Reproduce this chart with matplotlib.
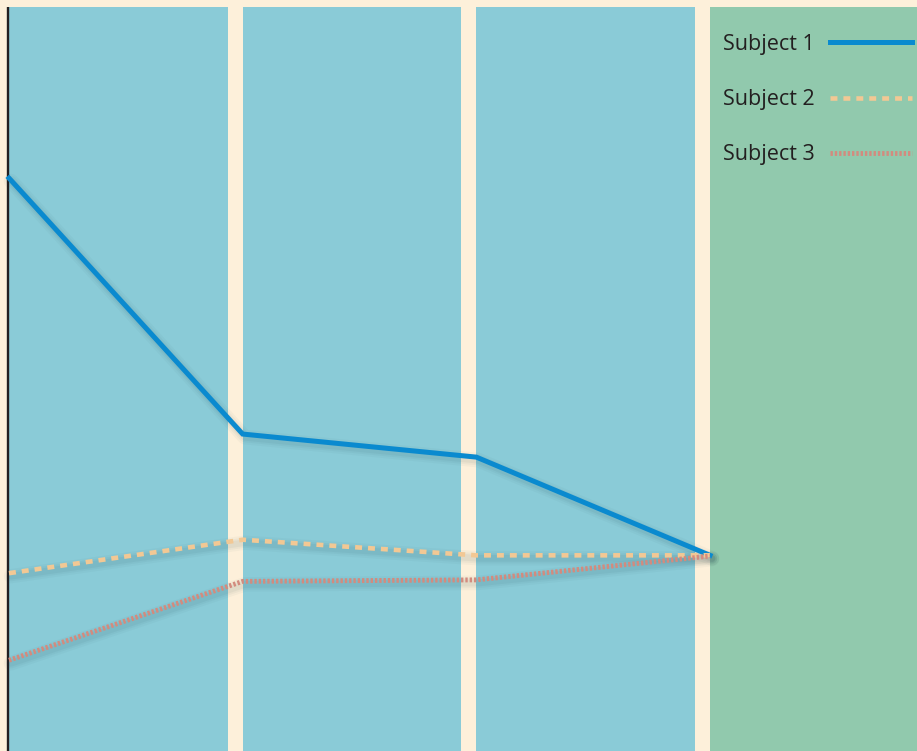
import matplotlib
matplotlib.use("Agg")
import matplotlib.pyplot as plt
import matplotlib.transforms as mtransforms
from matplotlib.lines import Line2D

plt.rcParams['font.family'] = ['Open Sans', 'DejaVu Sans']
plt.rcParams['lines.scale_dashes'] = False

# Measurement sessions and scores for each subject
sessions = [0, 1, 2, 3]
subject_1 = [77.0, 42.6, 39.5, 26.3]
subject_2 = [23.9, 28.4, 26.3, 26.3]
subject_3 = [12.2, 22.8, 23.0, 26.2]
labels = ["Subject 1", "Subject 2", "Subject 3"]

cream = "#fdf0da"
panel_blue = "#8acbd7"
panel_green = "#91c9ad"
colors = ["#0a8acf", "#f2c894", "#d38b7e"]

W, H, DPI = 917, 751, 100
fig = plt.figure(figsize=(W / DPI, H / DPI), dpi=DPI, facecolor=cream)
ax = fig.add_axes([0, 0, 1, 1])
ax.set_facecolor(cream)

step_px = 233.67
ax.set_xlim(-9 / step_px, (W - 9) / step_px)
ax.set_ylim(0, H / 7.44)
ax.axis("off")

# Phase panels behind the lines
ax.bar(sessions[:3], [100] * 3, width=(step_px - 15) / step_px, align="edge",
       color=panel_blue, zorder=1, linewidth=0)
ax.bar(sessions[3], 100, width=1.0, align="edge", color=panel_green,
       zorder=1, linewidth=0)

# Left axis line
ax.plot([-0.7 / step_px, -0.7 / step_px], [0, 100], color="#231f20", lw=1.7,
        zorder=2, solid_capstyle="butt")

series = [subject_1, subject_2, subject_3]
styles = [
    dict(linestyle="-", lw=3.6),
    dict(linestyle=(0, (5.0, 4.3)), lw=3.3),
    dict(linestyle=(0, (1.7, 1.4)), lw=3.5),
]

# Soft drop shadows under each line
shadow_tf = ax.transData + mtransforms.ScaledTranslation(2 / DPI, -3 / DPI, fig.dpi_scale_trans)
for vals, st in zip(series, styles):
    for extra, a in [(7, 0.03), (4, 0.04), (1.5, 0.05)]:
        ax.plot(sessions, vals, color="#1d3b45", alpha=a, lw=st["lw"] + extra,
                solid_joinstyle="round", solid_capstyle="round",
                transform=shadow_tf, zorder=3)

for vals, c, st in zip(series, colors, styles):
    ax.plot(sessions, vals, color=c, zorder=4, solid_joinstyle="miter",
            dash_capstyle="butt", **st)

# Legend
handles = [Line2D([], [], color=c, **st) for c, st in zip(colors, styles)]
leg = fig.legend(handles, labels, loc="upper left",
                 bbox_to_anchor=(723 / W, 1 - 34 / H), bbox_transform=fig.transFigure,
                 frameon=False, markerfirst=False, fontsize=15.5,
                 handlelength=3.8, handletextpad=0.7, labelspacing=1.59,
                 borderpad=0, borderaxespad=0)
for t in leg.get_texts():
    t.set_color("#231f20")

fig.savefig("out.png", dpi=DPI, facecolor=cream)
